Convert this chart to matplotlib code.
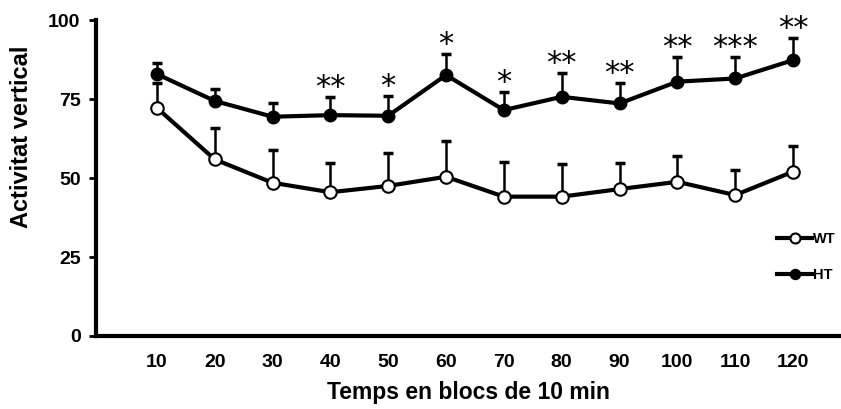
import numpy as np
import matplotlib
matplotlib.use("Agg")
import matplotlib.pyplot as plt

# ── DATA ───────────────────────────────────────────────────────────────────
minutes = [10, 20, 30, 40, 50, 60, 70, 80, 90, 100, 110, 120]
wt_mean = [72.2, 55.9, 48.5, 45.5, 47.5, 50.4, 44.1, 44.1, 46.5, 48.8, 44.6, 52.0]
wt_sem  = [7.9, 10.0, 10.4, 9.1, 10.3, 11.4, 11.1, 10.2, 8.3, 8.3, 7.9, 8.1]
ht_mean = [82.9, 74.4, 69.4, 69.9, 69.7, 82.6, 71.5, 75.7, 73.6, 80.5, 81.5, 87.3]
ht_sem  = [3.4, 3.8, 4.4, 5.6, 6.2, 6.6, 5.8, 7.4, 6.4, 7.9, 6.9, 7.1]
stars   = ['', '', '', '**', '*', '*', '*', '**', '**', '**', '***', '**']

plt.rcParams['font.family'] = ['Liberation Sans', 'DejaVu Sans']
plt.rcParams['font.weight'] = 'bold'

x = np.arange(1, len(minutes) + 1)

fig = plt.figure(figsize=(8.41, 4.09), dpi=100)
ax = fig.add_axes([0.114, 0.1785, 0.886, 0.7725])

# one-sided (upper) error bars, drawn behind the lines
for mean, sem in [(wt_mean, wt_sem), (ht_mean, ht_sem)]:
    ax.errorbar(x, mean, yerr=[np.zeros(len(sem)), sem], fmt='none',
                ecolor='black', elinewidth=1.8, capsize=3.6, capthick=2.5, zorder=1)

ax.plot(x, wt_mean, '-o', color='black', lw=3, ms=9, mfc='white', mec='black',
        mew=1.5, label='WT', zorder=3)
ax.plot(x, ht_mean, '-o', color='black', lw=3, ms=9, mfc='black', mec='black',
        label='HT', zorder=3)

# significance markers above HT error bars
for xi, m, s, st in zip(x, ht_mean, ht_sem, stars):
    if st:
        ax.annotate(st, (xi, m + s), xytext=(0, -3.5), textcoords='offset points',
                    ha='center', va='bottom', fontsize=22, fontweight='normal',
                    family='DejaVu Sans')

ax.set_xlim(-0.055, 12.83)
ax.set_ylim(0, 100)
ax.set_xticks(x)
ax.set_xticklabels([str(m) for m in minutes])
ax.set_yticks([0, 25, 50, 75, 100])
ax.tick_params(axis='x', length=0, pad=13, labelsize=14)
ax.tick_params(axis='y', length=5, width=2, pad=6, labelsize=14, direction='out')

for side in ['top', 'right']:
    ax.spines[side].set_visible(False)
ax.spines['left'].set_linewidth(3)
ax.spines['bottom'].set_linewidth(3)

ax.set_xlabel('Temps en blocs de 10 min', fontsize=16.5, fontweight='bold', labelpad=7)
ax.set_ylabel('Activitat vertical', fontsize=17, fontweight='bold')
ax.yaxis.set_label_coords(-0.084, 0.63)

ax.legend(loc='upper left', bbox_to_anchor=(777 / 841, 1 - 232 / 409),
          bbox_transform=fig.transFigure, frameon=False, fontsize=10.5,
          handlelength=2.4, handletextpad=0.1, labelspacing=1.5,
          borderpad=0, borderaxespad=0, markerscale=0.8)

fig.savefig('out.png', dpi=100)
